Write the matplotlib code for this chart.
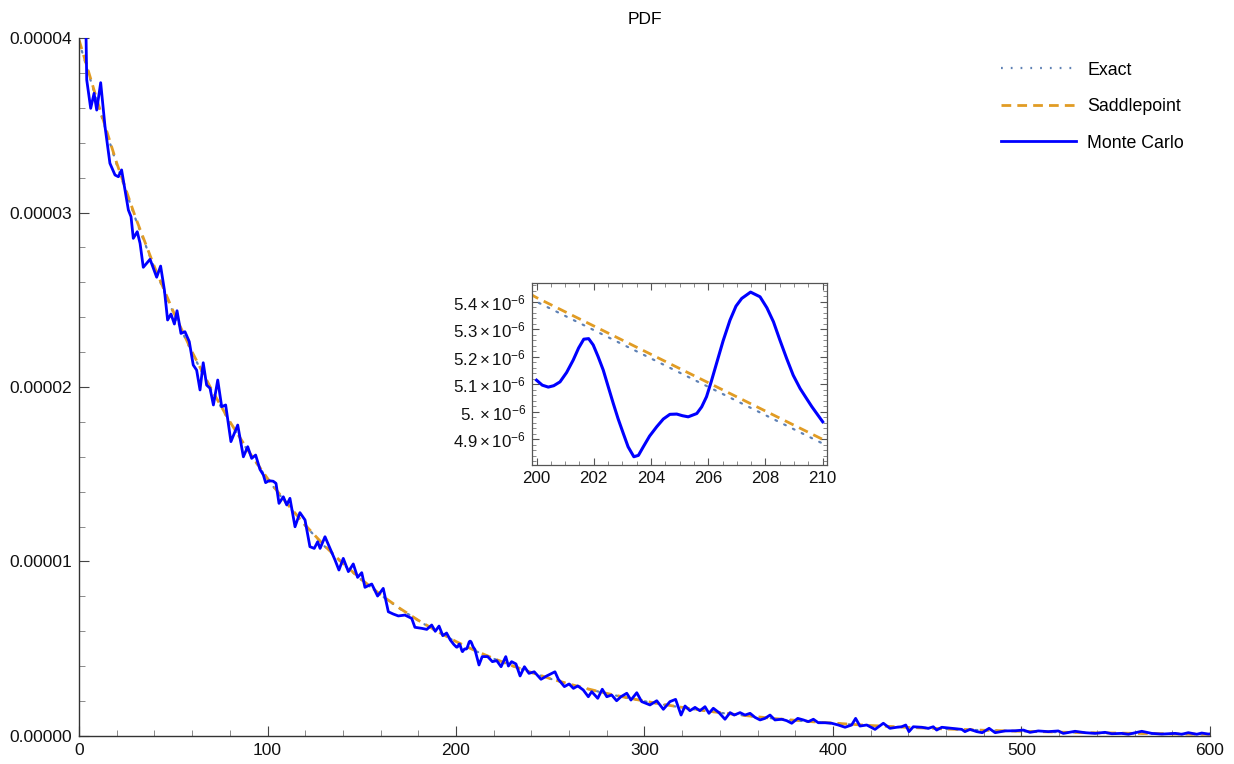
import numpy as np
import matplotlib
matplotlib.use("Agg")
import matplotlib.pyplot as plt
from matplotlib.ticker import MultipleLocator, FuncFormatter
from matplotlib.lines import Line2D

# Exact and saddlepoint densities read every 10 units (values in 1e-6)
grid_x = list(range(0, 601, 10))
exact_y = [39.80, 36.19, 32.75, 29.63, 26.81, 24.26, 21.95, 19.86, 17.97, 16.26,
           14.72, 13.32, 12.05, 10.90, 9.86, 8.93, 8.08, 7.31, 6.61, 5.98,
           5.40, 4.885, 4.43, 4.01, 3.63, 3.28, 2.97, 2.69, 2.43, 2.20,
           1.99, 1.80, 1.63, 1.47, 1.33, 1.21, 1.09, 0.99, 0.89, 0.81,
           0.73, 0.66, 0.60, 0.54, 0.49, 0.44, 0.40, 0.36, 0.33, 0.30,
           0.27, 0.24, 0.22, 0.20, 0.18, 0.16, 0.15, 0.13, 0.12, 0.11, 0.10]
saddle_y = [39.90, 36.29, 32.84, 29.71, 26.89, 24.33, 22.01, 19.92, 18.02, 16.31,
            14.76, 13.36, 12.09, 10.93, 9.89, 8.96, 8.10, 7.33, 6.63, 6.00,
            5.415, 4.90, 4.44, 4.02, 3.64, 3.29, 2.98, 2.70, 2.44, 2.21,
            2.00, 1.81, 1.64, 1.48, 1.34, 1.21, 1.10, 0.99, 0.90, 0.81,
            0.74, 0.67, 0.60, 0.55, 0.49, 0.45, 0.40, 0.37, 0.33, 0.30,
            0.27, 0.25, 0.22, 0.20, 0.18, 0.17, 0.15, 0.14, 0.12, 0.11, 0.10]

# Monte Carlo density estimate (values in 1e-6)
mc_x = [0, 3.6, 4.1, 6.2, 8.0, 9.4, 11.5, 13.8, 16.4, 19.1, 20.9, 22.6, 24.4, 26.2,
        27.6, 28.8, 30.9, 32.4, 34.1, 37.7, 41.2, 43.3, 45.3, 47.0, 48.8, 50.6,
        52.0, 54.1, 56.2, 58.5, 60.6, 62.4, 64.2, 65.9, 67.7, 69.5, 71.3, 73.6,
        75.7, 77.8, 80.6, 84.2, 87.2, 89.5, 91.6, 93.7, 96.0, 97.8, 99.0, 100.8,
        103.0, 104.5, 106.1, 108.4, 110.2, 111.9, 114.6, 117.2, 119.9, 122.5,
        124.8, 126.6, 127.9, 130.5, 133.2, 135.8, 137.9, 140.2, 142.9, 145.5,
        147.8, 150.0, 151.7, 155.3, 158.4, 161.4, 164.1, 166.7, 169.4, 172.9,
        176.5, 178.2, 181.8, 184.5, 187.1, 189.0, 191.0, 193.0, 195.0, 197.0,
        198.8, 200.0, 200.2, 200.41, 200.6, 200.82, 201.05, 201.28, 201.47,
        201.65, 201.82, 201.98, 202.15, 202.33, 202.5, 202.68, 202.85, 203.03,
        203.2, 203.4, 203.56, 203.73, 203.95, 204.2, 204.43, 204.66, 204.9,
        205.1, 205.3, 205.6, 205.77, 205.94, 206.1, 206.29, 206.52, 206.76,
        206.97, 207.17, 207.48, 207.81, 208.05, 208.28, 208.5, 208.74, 208.97,
        209.21, 209.42, 209.62, 209.82, 210.0, 212.2, 213.9, 216.8, 219.3, 221.6,
        223.9, 226.4, 227.8, 229.5, 231.8, 234.0, 236.3, 238.7, 241.5, 245.1,
        248.1, 250.8, 252.5, 254.3, 257.5, 260.0, 262.3, 264.6, 267.5, 270.2,
        272.0, 275.2, 277.6, 280.0, 282.6, 285.2, 287.5, 290.6, 292.8, 295.9,
        298.5, 302.9, 306.5, 310.0, 313.5, 316.5, 319.4, 321.5, 324.1, 326.8,
        329.4, 332.1, 334.2, 336.5, 339.5, 342.7, 345.4, 347.6, 350.7, 353.3,
        356.0, 358.6, 361.3, 363.9, 366.6, 369.2, 372.8, 375.4, 378.1, 381.3,
        384.3, 386.9, 389.6, 392.2, 395.8, 399.3, 402.8, 406.4, 409.9, 412.0,
        414.3, 417.9, 422.3, 426.7, 430.2, 433.8, 436.4, 438.6, 440.3, 442.6,
        447.1, 450.6, 453.2, 455.0, 457.7, 463.0, 468.3, 470.0, 472.7, 476.2,
        479.2, 482.8, 486.0, 491.2, 496.6, 501.0, 504.5, 508.9, 514.2, 519.5,
        522.2, 528.4, 533.7, 539.0, 544.3, 547.9, 553.2, 556.7, 563.8, 569.1,
        574.4, 581.5, 585.0, 588.5, 593.0, 595.6, 599.1, 600.0]
mc_y = [60.0, 41.0, 37.6, 35.97, 36.83, 35.87, 37.44, 34.92, 32.82, 32.15, 32.05,
        32.44, 31.29, 30.14, 29.76, 28.52, 28.9, 28.23, 26.86, 27.32, 26.29, 26.93,
        25.56, 23.84, 24.18, 23.61, 24.37, 23.07, 23.17, 22.6, 21.26, 20.97, 19.83,
        21.39, 20.11, 19.93, 18.97, 20.4, 18.87, 18.97, 16.87, 17.82, 16.0, 16.58,
        15.91, 16.1, 15.28, 14.96, 14.52, 14.63, 14.6, 14.48, 13.33, 13.71, 13.24,
        13.62, 11.99, 12.8, 12.38, 10.85, 10.75, 11.13, 10.75, 11.42, 10.75, 10.09,
        9.51, 10.18, 9.42, 9.86, 9.09, 9.36, 8.52, 8.71, 8.02, 8.46, 7.12, 6.99,
        6.88, 6.93, 6.74, 6.23, 6.17, 6.11, 6.36, 6.0, 6.3, 5.75, 5.9, 5.5, 5.25,
        5.115, 5.097, 5.090, 5.095, 5.109, 5.143, 5.188, 5.232, 5.264, 5.266,
        5.243, 5.201, 5.152, 5.093, 5.031, 4.975, 4.922, 4.873, 4.837, 4.842,
        4.873, 4.912, 4.946, 4.974, 4.991, 4.992, 4.986, 4.982, 4.994, 5.018,
        5.055, 5.108, 5.176, 5.258, 5.333, 5.384, 5.412, 5.435, 5.418, 5.378,
        5.327, 5.262, 5.194, 5.133, 5.085, 5.051, 5.019, 4.99, 4.964, 4.07, 4.55,
        4.55, 4.26, 4.32, 3.97, 4.55, 4.01, 4.26, 4.13, 3.44, 3.97, 3.59, 3.68,
        3.25, 3.44, 3.59, 3.68, 3.25, 2.83, 2.98, 2.73, 2.87, 2.64, 2.25, 2.54,
        2.16, 2.68, 2.25, 2.35, 2.02, 2.25, 2.45, 2.06, 2.48, 1.97, 1.78, 2.02,
        1.53, 1.97, 2.1, 1.2, 1.72, 1.45, 1.64, 1.45, 1.68, 1.3, 1.59, 1.34, 0.96,
        1.34, 1.2, 1.34, 1.2, 1.3, 1.07, 0.92, 1.01, 1.2, 0.92, 0.96, 0.88, 0.73,
        1.01, 0.92, 0.82, 0.96, 0.76, 0.76, 0.73, 0.63, 0.5, 0.63, 1.01, 0.57,
        0.63, 0.38, 0.73, 0.44, 0.5, 0.53, 0.63, 0.25, 0.53, 0.5, 0.44, 0.53,
        0.34, 0.5, 0.44, 0.38, 0.25, 0.38, 0.25, 0.19, 0.44, 0.19, 0.29, 0.3,
        0.34, 0.21, 0.29, 0.25, 0.29, 0.15, 0.27, 0.19, 0.15, 0.21, 0.13, 0.15,
        0.1, 0.27, 0.15, 0.11, 0.15, 0.1, 0.19, 0.1, 0.17, 0.11, 0.12]

plt.rcParams['font.family'] = ['Liberation Sans', 'DejaVu Sans']
plt.rcParams['mathtext.fontset'] = 'custom'
plt.rcParams['mathtext.rm'] = 'Liberation Sans'
plt.rcParams['mathtext.it'] = 'Liberation Sans:italic'
plt.rcParams['mathtext.bf'] = 'Liberation Sans:bold'

exact_col = '#5E81B5'
saddle_col = '#E19C24'
mc_col = '#0000FF'

ex = np.array(exact_y) * 1e-6
sp = np.array(saddle_y) * 1e-6
mcx = np.array(mc_x)
mc = np.array(mc_y) * 1e-6


def draw_curves(a, xs, ys, lw_mc):
    a.plot(grid_x, ex, color=exact_col, lw=1.6, linestyle=(0, (0.8, 3.6)),
           dash_capstyle='round')
    a.plot(grid_x, sp, color=saddle_col, lw=2.0, linestyle=(0, (3.5, 2.2)))
    a.plot(xs, ys, color=mc_col, lw=lw_mc, solid_joinstyle='round')


fig = plt.figure(figsize=(12.34, 7.64), dpi=100)
ax = fig.add_axes([0.06402, 0.03665, 0.91653, 0.91361])
draw_curves(ax, mcx, mc, 2.0)
ax.set_xlim(0, 600)
ax.set_ylim(0, 4e-5)
ax.xaxis.set_major_locator(MultipleLocator(100))
ax.xaxis.set_minor_locator(MultipleLocator(20))
ax.yaxis.set_major_locator(MultipleLocator(1e-5))
ax.yaxis.set_minor_locator(MultipleLocator(2e-6))
ax.yaxis.set_major_formatter(FuncFormatter(lambda v, p: f'{v:.5f}'))
for s in ['top', 'right']:
    ax.spines[s].set_visible(False)
for s in ['left', 'bottom']:
    ax.spines[s].set_color('#333333')
    ax.spines[s].set_linewidth(1.0)
ax.tick_params(which='both', direction='in', top=False, right=False)
ax.tick_params(which='major', length=7, width=0.8, color='#444444',
               labelsize=12.5, pad=5, labelcolor='#111111')
ax.tick_params(which='minor', length=4, width=0.6, color='#777777')
ax.set_title('PDF', fontsize=12.5, pad=10)

# inset zoom on 200..210
ins = fig.add_axes([0.43087, 0.39136, 0.23906, 0.23783])
sel = (mcx >= 200) & (mcx <= 210)
draw_curves(ins, mcx[sel], mc[sel], 2.2)
ins.set_xlim(199.83, 210.14)
ins.set_ylim(4.807e-6, 5.467e-6)
ins.xaxis.set_major_locator(MultipleLocator(2))
ins.xaxis.set_minor_locator(MultipleLocator(0.5))
ins.yaxis.set_major_locator(MultipleLocator(1e-7))
ins.yaxis.set_minor_locator(MultipleLocator(2e-8))


def sci_fmt(v, p):
    s = f'{v * 1e6:.1f}'
    if s.endswith('.0'):
        s = s[:-1]
    return r'$' + s + r'\times10^{-6}$'


ins.yaxis.set_major_formatter(FuncFormatter(sci_fmt))
for s in ins.spines.values():
    s.set_color('#555555')
    s.set_linewidth(0.9)
ins.tick_params(which='both', direction='in', top=True, right=True)
ins.tick_params(which='major', length=5, width=0.8, color='#555555',
                labelsize=12.2, pad=4, labelcolor='#111111')
ins.tick_params(which='minor', length=3, width=0.6, color='#777777')

handles = [
    Line2D([], [], color=exact_col, lw=1.6, linestyle=(0, (0.8, 3.6))),
    Line2D([], [], color=saddle_col, lw=2.0, linestyle=(0, (3.5, 2.2))),
    Line2D([], [], color=mc_col, lw=2.0),
]
fig.legend(handles, ['Exact', 'Saddlepoint', 'Monte Carlo'], loc='upper left',
           bbox_to_anchor=(0.8039, 0.931), frameon=False, handlelength=4.2,
           handletextpad=0.65, labelspacing=1.1, borderpad=0, fontsize=12.8)

fig.savefig('out.png', dpi=100)
